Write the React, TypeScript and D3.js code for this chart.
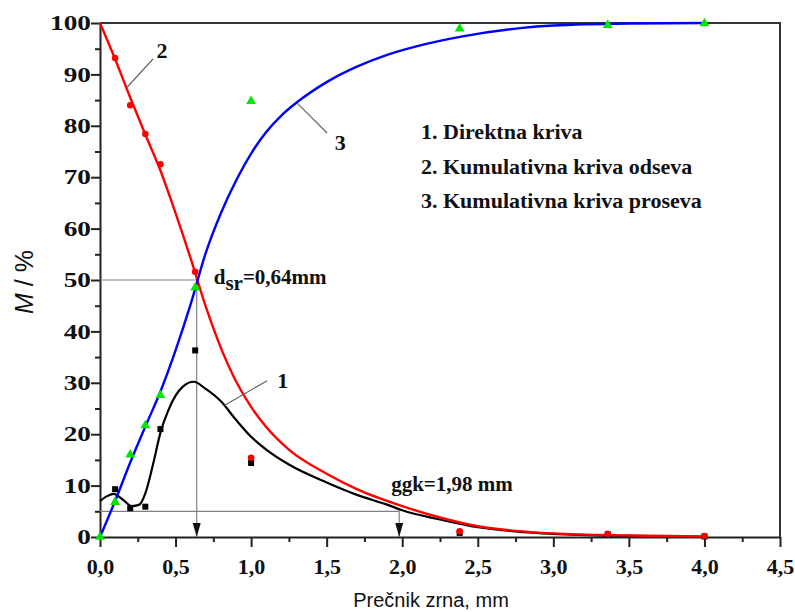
import React, { useEffect, useRef } from 'react';
import * as d3 from 'd3';

// fitted curves
const curveX1 = [0, 0.05, 0.09, 0.15, 0.21, 0.26, 0.3, 0.35, 0.4, 0.45, 0.5, 0.55, 0.62, 0.7, 0.8, 0.9, 1.0, 1.1, 1.25, 1.5, 1.7, 1.9, 2.0, 2.25, 2.5, 2.75, 3.0, 3.5, 4.0];
const curveY1 = [7.0, 8.0, 8.4, 7.3, 6.0, 6.3, 8.5, 14, 20.3, 24.5, 27.5, 29.3, 30.2, 28.8, 26.4, 22.8, 19.5, 17, 14.1, 10.6, 8.2, 6.3, 5.2, 3.4, 1.9, 1.1, 0.6, 0.2, 0.05];

const curveX2 = [0, 0.1, 0.2, 0.3, 0.4, 0.5, 0.6, 0.7, 0.8, 0.9, 1.0, 1.1, 1.25, 1.5, 1.7, 2.0, 2.25, 2.5, 2.75, 3.0, 3.5, 4.0];
const curveY2 = [100, 93, 85.5, 78.3, 71.3, 63, 54.2, 44.8, 36.8, 30.3, 25.3, 21.4, 17.0, 12.3, 9.3, 6.0, 3.8, 2.1, 1.2, 0.7, 0.3, 0.1];

const curveX3 = [0, 0.1, 0.2, 0.3, 0.4, 0.5, 0.6, 0.7, 0.8, 0.9, 1.0, 1.1, 1.2, 1.3, 1.5, 1.7, 1.9, 2.1, 2.4, 2.78, 3.0, 3.5, 4.0];
const curveY3 = [0, 7, 14.5, 21.5, 28.3, 36.3, 45.3, 55.3, 63, 69.3, 74.6, 78.8, 82, 84.5, 88.5, 91.5, 93.8, 95.5, 97.4, 99.0, 99.5, 99.9, 100];

// measured points
const pointX = [0.1, 0.2, 0.3, 0.4, 0.63, 1.0, 2.38, 3.36, 4.0];
const direktna = [9.3, 5.6, 5.9, 21, 36.3, 14.4, 0.8, 0.5, 0.1];
const odsev = [93.2, 84, 78.4, 72.5, 51.6, 15.4, 1.1, 0.6, 0.2];
const prosevX = [0, 0.1, 0.2, 0.3, 0.4, 0.63, 1.0, 2.38, 3.36, 4.0];
const prosev = [0, 6.8, 16, 21.7, 27.6, 48.5, 84.8, 98.9, 99.6, 99.9];

const xTicks = [0, 0.5, 1, 1.5, 2, 2.5, 3, 3.5, 4, 4.5];
const yTicks = [0, 10, 20, 30, 40, 50, 60, 70, 80, 90, 100];

const dsr = 0.64;
const ggk = 1.98;
const dsrLevel = 50;
const ggkLevel = 5;

const legendItems = ['1. Direktna kriva', '2. Kumulativna kriva odseva', '3. Kumulativna kriva proseva'];

// curve labels: [text, leader from (x,y), leader to (x,y), label at (x,y)]
const curveLabels: [string, number, number, number, number, number, number][] = [
  ['1', 0.828, 25.7, 1.106, 30.4, 1.21, 28.9],
  ['2', 0.179, 87.5, 0.351, 93.0, 0.41, 93.2],
  ['3', 1.305, 84.4, 1.503, 78.6, 1.59, 75.3],
];

const App = () => {
  const chartRef = useRef<SVGSVGElement>(null);

  useEffect(() => {
    const svg = d3.select(chartRef.current);
    svg.selectAll('*').remove();

    const x = d3.scaleLinear().domain([0, 4.5]).range([100, 780]);
    const y = d3.scaleLinear().domain([0, 100]).range([537, 23]);
    const fmt = (d: number) => d3.format('.1f')(d).replace('.', ',');
    const comma = (d: number) => String(d).replace('.', ',');
    const tickFont = "'Liberation Serif', 'Times New Roman', serif";

    svg.append('rect').attr('width', 795).attr('height', 612).attr('fill', '#fff');

    // frame top & right
    svg.append('path')
      .attr('d', `M${x(0)},${y(100)}H${x(4.5)}V${y(0)}`)
      .attr('fill', 'none')
      .attr('stroke', '#333')
      .attr('stroke-width', 2);

    // minor ticks
    svg.append('g')
      .attr('transform', `translate(0,${y(0)})`)
      .call(d3.axisBottom(x).tickValues(d3.range(0.25, 4.5, 0.5)).tickSize(5).tickFormat(() => ''))
      .call(g => g.select('.domain').remove())
      .selectAll('line').attr('stroke', '#222').attr('stroke-width', 2);
    svg.append('g')
      .attr('transform', `translate(${x(0)},0)`)
      .call(d3.axisLeft(y).tickValues(d3.range(5, 100, 10)).tickSize(5).tickFormat(() => ''))
      .call(g => g.select('.domain').remove())
      .selectAll('line').attr('stroke', '#222').attr('stroke-width', 2);

    // major axes
    const xg = svg.append('g')
      .attr('transform', `translate(0,${y(0)})`)
      .call(d3.axisBottom(x).tickValues(xTicks).tickSize(10).tickSizeOuter(0).tickFormat(d => fmt(+d)));
    xg.select('.domain').attr('stroke', '#222').attr('stroke-width', 2);
    xg.selectAll('line').attr('stroke', '#222').attr('stroke-width', 2);
    xg.selectAll('text')
      .attr('y', 21)
      .attr('font-family', tickFont)
      .attr('font-weight', 'bold')
      .attr('font-size', 22)
      .attr('fill', '#111');

    const yg = svg.append('g')
      .attr('transform', `translate(${x(0)},0)`)
      .call(d3.axisLeft(y).tickValues(yTicks).tickSize(9).tickSizeOuter(0).tickFormat(d => String(d)));
    yg.select('.domain').attr('stroke', '#222').attr('stroke-width', 2);
    yg.selectAll('line').attr('stroke', '#222').attr('stroke-width', 2);
    yg.selectAll('text')
      .attr('x', 0)
      .attr('transform', 'translate(-9,0) scale(1.3,1)')
      .attr('font-family', tickFont)
      .attr('font-weight', 'bold')
      .attr('font-size', 21)
      .attr('fill', '#111');

    // reference lines
    const refG = svg.append('g').attr('stroke', '#808080').attr('stroke-width', 1.2).attr('fill', 'none');
    refG.append('line').attr('x1', x(0)).attr('x2', x(dsr)).attr('y1', y(dsrLevel)).attr('y2', y(dsrLevel));
    refG.append('line').attr('x1', x(dsr)).attr('x2', x(dsr)).attr('y1', y(dsrLevel)).attr('y2', y(0));
    refG.append('line').attr('x1', x(0)).attr('x2', x(ggk)).attr('y1', y(ggkLevel)).attr('y2', y(ggkLevel));
    refG.append('line').attr('x1', x(ggk)).attr('x2', x(ggk)).attr('y1', y(ggkLevel)).attr('y2', y(0));
    [dsr, ggk].forEach(v => {
      svg.append('path')
        .attr('d', `M${x(v)},${y(0)}L${x(v) - 4},${y(0) - 14}L${x(v) + 4},${y(0) - 14}Z`)
        .attr('fill', '#111');
    });

    // curves
    const drawCurve = (xs: number[], ys: number[], color: string, w: number) => {
      const line = d3.line<number>()
        .x((d, i) => x(xs[i]))
        .y(d => y(d))
        .curve(d3.curveMonotoneX);
      svg.append('path')
        .datum(ys)
        .attr('d', line)
        .attr('fill', 'none')
        .attr('stroke', color)
        .attr('stroke-width', w);
    };
    drawCurve(curveX1, curveY1, '#000', 2.2);
    drawCurve(curveX2, curveY2, '#ff0000', 2.4);
    drawCurve(curveX3, curveY3, '#0000ff', 2.4);

    // markers
    svg.append('g').selectAll('rect')
      .data(direktna)
      .enter()
      .append('rect')
      .attr('x', (d, i) => x(pointX[i]) - 3)
      .attr('y', d => y(d) - 3)
      .attr('width', 6)
      .attr('height', 6)
      .attr('fill', '#000');

    svg.append('g').selectAll('path')
      .data(prosev)
      .enter()
      .append('path')
      .attr('d', d3.symbol().type(d3.symbolTriangle).size(42))
      .attr('transform', (d, i) => `translate(${x(prosevX[i])},${y(d)})`)
      .attr('fill', '#00e600');

    svg.append('g').selectAll('circle')
      .data(odsev)
      .enter()
      .append('circle')
      .attr('cx', (d, i) => x(pointX[i]))
      .attr('cy', d => y(d))
      .attr('r', 3.3)
      .attr('fill', '#ff0000');

    // curve number labels
    curveLabels.forEach(([t, x1, y1, x2, y2, tx, ty]) => {
      svg.append('line')
        .attr('x1', x(x1)).attr('y1', y(y1))
        .attr('x2', x(x2)).attr('y2', y(y2))
        .attr('stroke', '#666')
        .attr('stroke-width', 1.2);
      svg.append('text')
        .attr('x', x(tx))
        .attr('y', y(ty))
        .attr('text-anchor', 'middle')
        .attr('font-family', tickFont)
        .attr('font-weight', 'bold')
        .attr('font-size', 22)
        .attr('fill', '#111')
        .text(t);
    });

    // dsr & ggk annotations
    const dsrText = svg.append('text')
      .attr('x', x(dsr) + 17)
      .attr('y', y(dsrLevel) + 4)
      .attr('font-family', tickFont)
      .attr('font-weight', 'bold')
      .attr('font-size', 21)
      .attr('fill', '#111');
    dsrText.append('tspan').text('d');
    dsrText.append('tspan').attr('dy', 6).text('sr');
    dsrText.append('tspan').attr('dy', -6).text(`=${comma(dsr)}mm`);

    svg.append('text')
      .attr('x', x(ggk) - 8)
      .attr('y', y(ggkLevel) - 20)
      .attr('font-family', tickFont)
      .attr('font-weight', 'bold')
      .attr('font-size', 21)
      .attr('fill', '#111')
      .text(`ggk=${comma(ggk)} mm`);

    // legend
    svg.append('g').selectAll('text')
      .data(legendItems)
      .enter()
      .append('text')
      .attr('x', 421)
      .attr('y', (d, i) => 139 + i * 34.5)
      .attr('font-family', tickFont)
      .attr('font-weight', 'bold')
      .attr('font-size', 22)
      .attr('fill', '#111')
      .text(d => d);

    // axis titles
    const yt = svg.append('text')
      .attr('transform', 'translate(33,282) rotate(-90)')
      .attr('text-anchor', 'middle')
      .attr('font-family', "'Liberation Sans', Arial, sans-serif")
      .attr('font-size', 25)
      .attr('fill', '#111');
    yt.append('tspan').attr('font-style', 'italic').text('M');
    yt.append('tspan').text(' / %');

    svg.append('text')
      .attr('x', 431)
      .attr('y', 607)
      .attr('text-anchor', 'middle')
      .attr('font-family', "'Liberation Sans', Arial, sans-serif")
      .attr('font-size', 20)
      .attr('fill', '#111')
      .text('Prečnik zrna, mm');
  }, []);

  return (
    <svg ref={chartRef} width={795} height={612} style={{ position: 'absolute', left: 0, top: 0 }} />
  );
};

export default App;
